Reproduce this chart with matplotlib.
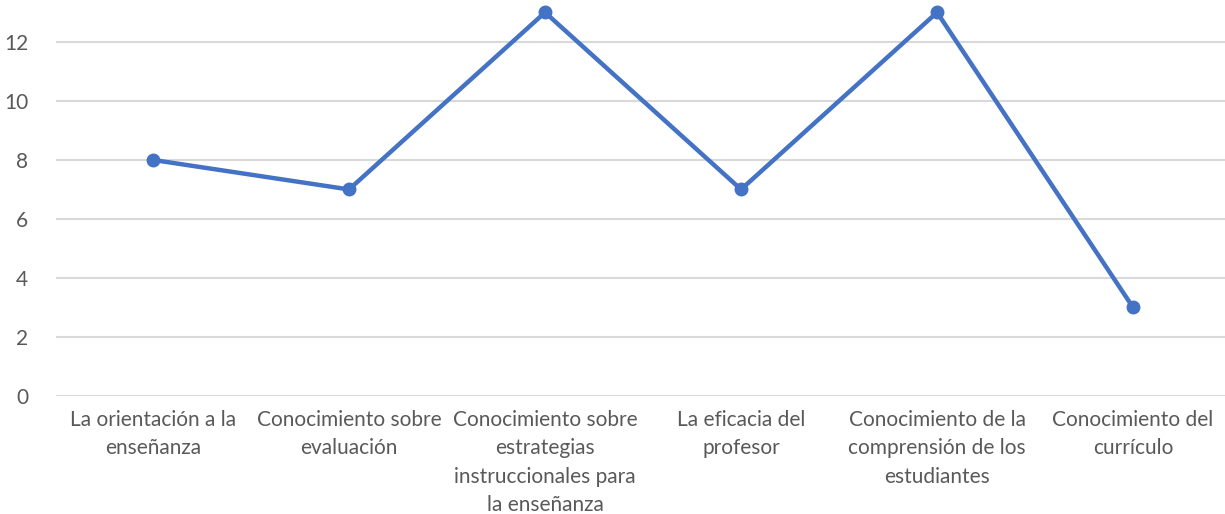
import matplotlib.pyplot as plt

categorias = [
    "La orientación a la\nenseñanza",
    "Conocimiento sobre\nevaluación",
    "Conocimiento sobre\nestrategias\ninstruccionales para\nla enseñanza",
    "La eficacia del\nprofesor",
    "Conocimiento de la\ncomprensión de los\nestudiantes",
    "Conocimiento del\ncurrículo",
]
valores = [8, 7, 13, 7, 13, 3]
yticks = [0, 2, 4, 6, 8, 10, 12]

plt.rcParams['font.family'] = ['Lato', 'DejaVu Sans']
gris = '#595959'

fig = plt.figure(figsize=(12.25, 5.14), dpi=100)
ax = fig.add_axes([56 / 1225, 118 / 514, 1 - 56 / 1225, 1 - 118 / 514])

x = list(range(len(categorias)))
ax.plot(x, valores, color='#4472C4', linewidth=3.2, marker='o', markersize=9,
        clip_on=False, zorder=3)

ax.set_ylim(0, 13.42)
ax.set_xlim(-0.495, 5.469)
ax.set_yticks(yticks)
ax.set_xticks(x)
ax.set_xticklabels(categorias, color=gris, fontsize=15, linespacing=1.52)
ax.tick_params(axis='y', colors=gris, labelsize=15, length=0, pad=20)
ax.tick_params(axis='x', length=0, pad=10)
ax.grid(axis='y', color='#D9D9D9', linewidth=1.5)
ax.set_axisbelow(True)
for s in ax.spines.values():
    s.set_visible(False)

fig.savefig('out.png', dpi=100)
